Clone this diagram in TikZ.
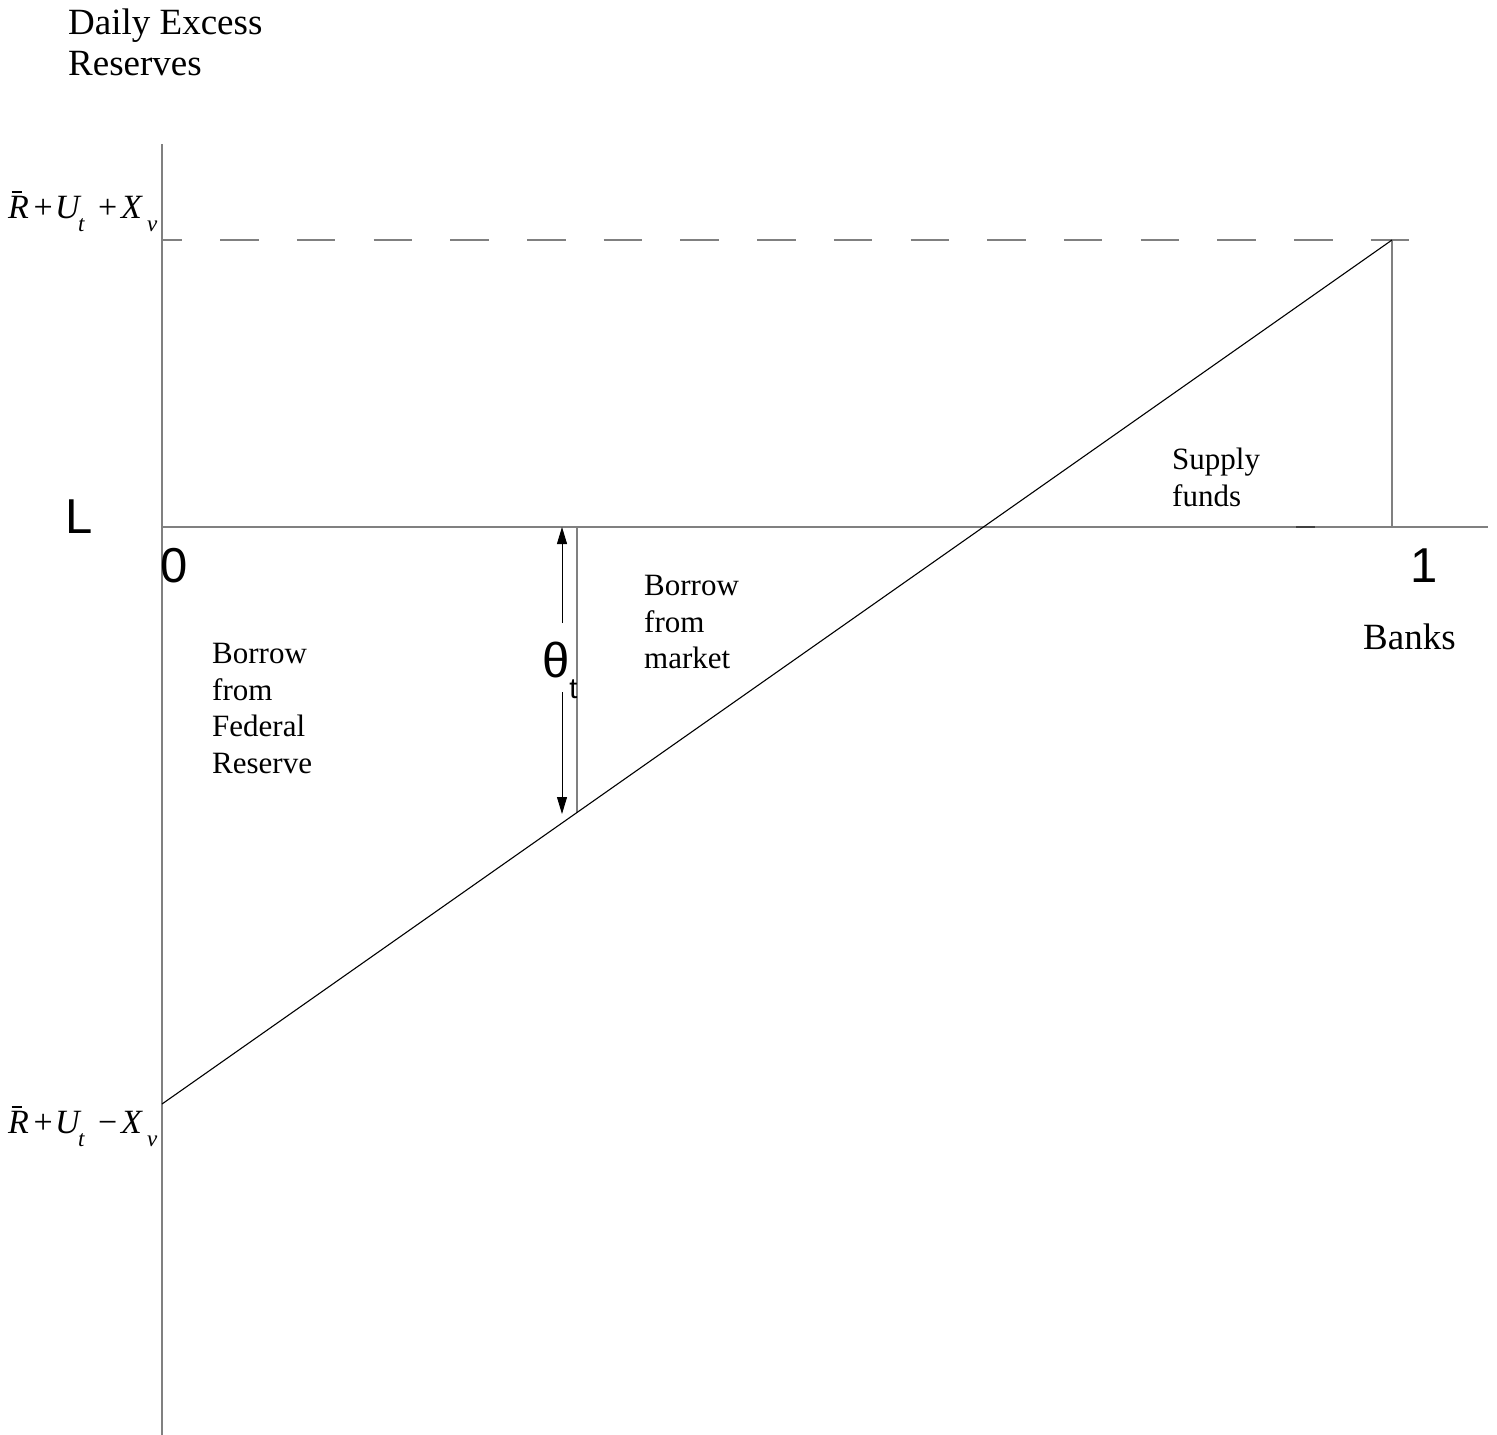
\documentclass[tikz,border=0pt]{standalone}
\usepackage{fontspec}
\setmainfont{Liberation Serif}
\newfontfamily\sansf{Liberation Sans}
\usetikzlibrary{arrows.meta}
\definecolor{axisgray}{HTML}{808080}
\newcommand{\barR}{\rlap{\hspace*{0.1em}\raisebox{0.74em}{\rule{0.3em}{0.045em}}}\textit{R}}
\newcommand{\lowsub}[1]{\raisebox{-0.4em}{\fontsize{23}{23}\selectfont\itshape #1}}
\newcommand{\bx}[3]{\makebox[#1pt][#2]{#3}}
\begin{document}
\begin{tikzpicture}[x=1pt,y=-1pt,
  axis/.style={draw=axisgray,line width=1.6pt},
  curve/.style={draw=black,line width=1.1pt},
  dashline/.style={draw=axisgray,line width=1.6pt,dash pattern=on 38.5pt off 38.2pt,dash phase=18.5pt},
  dimarrow/.style={draw=black,line width=0.9pt,-{Triangle[length=17pt,width=10pt]}},
  lbl/.style={inner sep=0pt,align=left,anchor=north west},
  serifbig/.style={font=\fontsize{37}{41}\selectfont},
  serifmid/.style={font=\fontsize{31}{36.7}\selectfont},
  sansbig/.style={inner sep=0pt,font=\sansf\fontsize{49}{49}\selectfont},
  mathlbl/.style={inner sep=0pt,anchor=base west,font=\fontsize{34}{38}\selectfont}]
\useasboundingbox (0,0) rectangle (1497,1435);
% coordinates
\coordinate (axtop) at (162,144);
\coordinate (axbot) at (162,1435);
\coordinate (O) at (162,527);
\coordinate (hend) at (1488,527);
\coordinate (dstart) at (162,240);
\coordinate (dend) at (1411,240);
\coordinate (P) at (1392,240);
\coordinate (Q) at (1392,527);
\coordinate (low) at (162,1104);
\coordinate (tx) at (577,527);
\coordinate (ty) at (577,812.5);
\coordinate (atop) at (562,527);
\coordinate (abot) at (562,814);
\coordinate (tickA) at (1296,527);
\coordinate (tickB) at (1315,527);
% axes and lines
\draw[axis] (axtop) -- (axbot);
\draw[axis] (O) -- (hend);
\draw[dashline] (dstart) -- (dend);
\draw[axis] (P) -- (Q);
\draw[axis] (tx) -- (ty);
\draw[curve] (low) -- (P);
\draw[draw=black!75,line width=2pt] (tickA) -- (tickB);
% texts
\node[lbl,serifbig] (title) at (68,9) {Daily Excess\\Reserves};
\node[lbl,serifmid] (fed) at (212,643) {Borrow\\from\\Federal\\Reserve};
\node[lbl,serifmid] (mkt) at (644,575) {Borrow\\from\\market};
\node[lbl,serifmid] (sup) at (1172,448) {Supply\\funds};
\node[lbl,serifbig] (banks) at (1363,624) {Banks};
\node[sansbig,anchor=base west] (Lnode) at (65,533) {L};
\node[sansbig,anchor=base west] (zero) at (160,582) {0};
\node[sansbig,anchor=base west] (one) at (1410,582) {1};
\node[inner sep=0pt,anchor=base west,font=\sansf\fontsize{49}{49}\selectfont] (theta) at (542,677) {θ\raisebox{-21pt}{\fontsize{29}{29}\selectfont t}};
\node[mathlbl] (upper) at (8,218) {\bx{23}{l}{\barR}\bx{24}{c}{+}\bx{23}{l}{\textit{U}}\bx{16}{l}{\lowsub{t}}\bx{27}{c}{+}\bx{26}{l}{\textit{X}}\bx{10}{l}{\lowsub{v}}};
\node[mathlbl] (lower) at (8,1133) {\bx{23}{l}{\barR}\bx{24}{c}{+}\bx{23}{l}{\textit{U}}\bx{16}{l}{\lowsub{t}}\bx{27}{c}{−}\bx{26}{l}{\textit{X}}\bx{10}{l}{\lowsub{v}}};
% theta dimension arrows
\coordinate (thtop) at (562,623);
\coordinate (thbot) at (562,692);
\draw[dimarrow] (thtop) -- (atop);
\draw[dimarrow] (thbot) -- (abot);
\end{tikzpicture}
\end{document}
